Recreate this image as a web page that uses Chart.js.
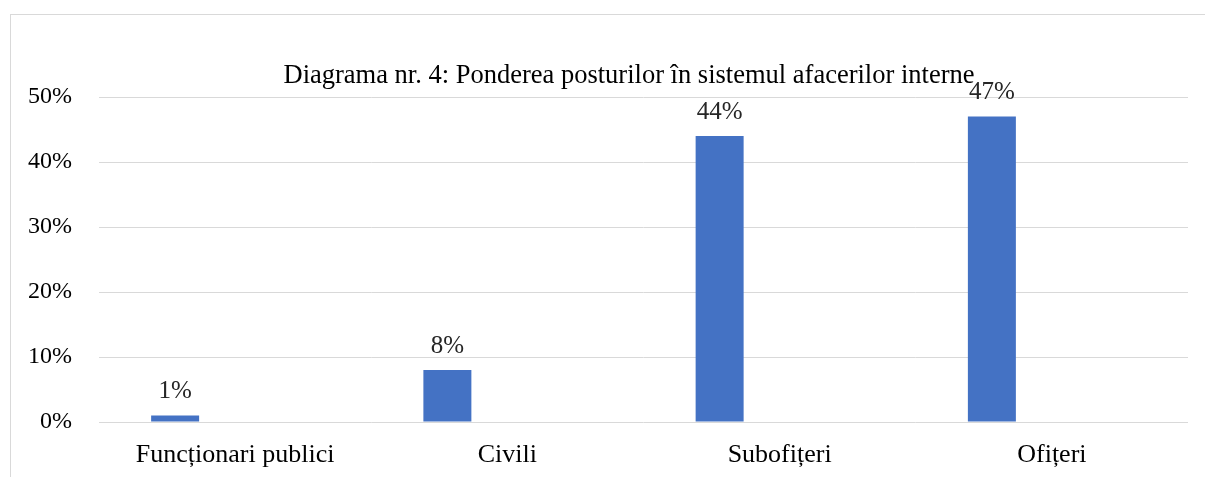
<!DOCTYPE html>
<html>
<head>
<meta charset="utf-8">
<script src="https://cdn.jsdelivr.net/npm/chart.js@4"></script>
<style>
  body { margin: 0; background: #fff; overflow: hidden; }
  #frame { position: absolute; left: 10px; top: 14px; width: 1400px; height: 700px; border: 1px solid #d9d9d9; }
  #c { position: absolute; left: 0; top: 0; }
</style>
</head>
<body>
<div id="frame"></div>
<canvas id="c" width="1205" height="477"></canvas>
<script>
  const categories = ['Funcționari publici', 'Civili', 'Subofițeri', 'Ofițeri'];
  const ponderea = [1, 8, 44, 47];
  const gol = [null, null, null, null]; // serie goală, ca în graficul original
  const yTicks = [0, 10, 20, 30, 40, 50];
  const titlu = 'Diagrama nr. 4: Ponderea posturilor în sistemul afacerilor interne';

  const serif = '"Liberation Serif", "Times New Roman", serif';

  // etichete deasupra barelor + titlul
  const etichete = {
    id: 'etichete',
    afterDatasetsDraw(chart) {
      const ctx = chart.ctx;
      ctx.save();
      ctx.font = '25px ' + serif;
      ctx.fillStyle = '#262626';
      ctx.textAlign = 'center';
      ctx.textBaseline = 'alphabetic';
      chart.getDatasetMeta(0).data.forEach((bar, i) => {
        ctx.fillText(ponderea[i] + '%', bar.x, bar.y - 17.5);
      });
      ctx.font = '26.5px ' + serif;
      ctx.fillStyle = '#000';
      ctx.fillText(titlu, 629, 83);
      ctx.restore();
    }
  };

  new Chart(document.getElementById('c'), {
    type: 'bar',
    data: {
      labels: categories,
      datasets: [{
        label: 'Ponderea',
        data: ponderea,
        backgroundColor: '#4472C4',
        categoryPercentage: 0.8815,
        barPercentage: 0.4,
      }, {
        label: '',
        data: gol,
        backgroundColor: 'transparent',
        categoryPercentage: 0.8815,
        barPercentage: 0.4,
      }],
    },
    options: {
      responsive: false,
      animation: false,
      layout: { padding: { left: 10, right: 17, top: 97, bottom: 0 } },
      plugins: {
        legend: { display: false },
        tooltip: { enabled: false },
      },
      scales: {
        x: {
          grid: { display: false, drawTicks: false },
          border: { display: false },
          ticks: { font: { family: serif, size: 26 }, color: '#000', padding: 18 },
          afterFit(scale) { scale.height = 55; },
        },
        y: {
          min: 0,
          max: 50,
          grid: { color: '#d9d9d9', lineWidth: 1, drawTicks: false },
          border: { display: false },
          afterBuildTicks(scale) { scale.ticks = yTicks.map(v => ({ value: v })); },
          ticks: {
            font: { family: serif, size: 24 },
            color: '#000',
            padding: 27,
            callback: v => v + '%',
          },
          afterFit(scale) { scale.width = 89; },
        },
      },
    },
    plugins: [etichete],
  });
</script>
</body>
</html>
